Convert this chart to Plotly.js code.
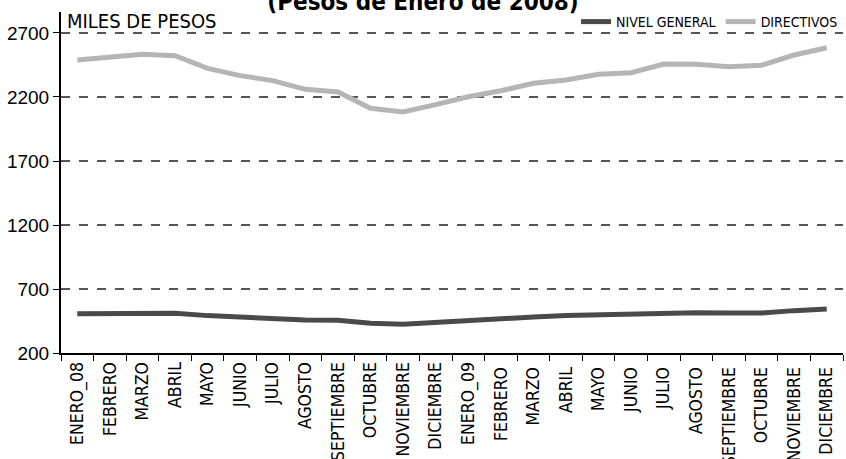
<!DOCTYPE html>
<html><head><meta charset="utf-8">
<script src="https://cdn.plot.ly/plotly-3.0.1.min.js"></script>
<style>html,body{margin:0;padding:0;background:#fff}#c{width:846px;height:459px}</style>
</head><body><div id="c"></div>
<script>
const months = ["ENERO_08","FEBRERO","MARZO","ABRIL","MAYO","JUNIO","JULIO","AGOSTO","SEPTIEMBRE","OCTUBRE","NOVIEMBRE","DICIEMBRE",
  "ENERO_09","FEBRERO ","MARZO ","ABRIL ","MAYO ","JUNIO ","JULIO ","AGOSTO ","SEPTIEMBRE ","OCTUBRE ","NOVIEMBRE ","DICIEMBRE "];
const nivelGeneral = [507,509,512,510,492,479,471,458,456,432,424,440,456,466,481,492,497,502,515,515,512,512,531,544];
const directivos = [2489,2510,2534,2523,2424,2367,2328,2260,2239,2112,2083,2140,2202,2249,2307,2333,2377,2390,2458,2455,2437,2448,2528,2585];
const yTicks = [200,700,1200,1700,2200,2700];

const narrow = '"DejaVu Sans Condensed", "Liberation Sans Narrow", sans-serif';
const traces = [
  {x: months, y: nivelGeneral, name: 'NIVEL GENERAL', type: 'scatter', mode: 'lines', line: {color: '#4a4a4a', width: 5}},
  {x: months, y: directivos, name: 'DIRECTIVOS', type: 'scatter', mode: 'lines', line: {color: '#b5b5b5', width: 5}}
];
const paperH = 459 - 106;
const layout = {
  width: 846, height: 459,
  margin: {l: 61, r: 3, t: 0, b: 106},
  paper_bgcolor: '#fff', plot_bgcolor: '#fff',
  showlegend: true,
  title: {text: '<b>(Pesos de Enero de 2008)</b>', font: {family: narrow, size: 24, color: '#000'},
    x: 0.5, xref: 'container', xanchor: 'center', yref: 'container', y: 1 - 10/459, yanchor: 'bottom'},
  legend: {orientation: 'h', x: 1, xanchor: 'right', y: (paperH - 22) / paperH, yanchor: 'middle',
    font: {family: narrow, size: 14, color: '#000'}, bgcolor: 'rgba(0,0,0,0)', itemwidth: 30, tracegroupgap: 0},
  xaxis: {type: 'category', tickangle: -90, tickfont: {family: narrow, size: 17.5, color: '#000'},
    showline: true, linecolor: '#000', linewidth: 2, ticks: 'outside', ticklen: 6, tickcolor: '#000',
    tickson: 'boundaries', showgrid: false, zeroline: false, range: [-0.5, 23.5]},
  yaxis: {domain: [0, (paperH - 12) / paperH], range: [200, 2864], tickvals: yTicks, ticktext: yTicks.map(String),
    tickfont: {family: 'Liberation Sans, Arial, sans-serif', size: 19, color: '#000'},
    showline: true, linecolor: '#000', linewidth: 2, ticks: 'outside', ticklen: 6, tickcolor: '#000',
    showgrid: true, gridcolor: '#555', griddash: 'dash', gridwidth: 1.3, zeroline: false},
  annotations: [{text: 'MILES DE PESOS', xref: 'paper', yref: 'paper', x: 0, y: (paperH - 21) / paperH,
    xanchor: 'left', yanchor: 'middle', xshift: 4, showarrow: false, font: {family: narrow, size: 20, color: '#000'}}]
};
Plotly.newPlot('c', traces, layout, {displayModeBar: false, staticPlot: true});
</script></body></html>
